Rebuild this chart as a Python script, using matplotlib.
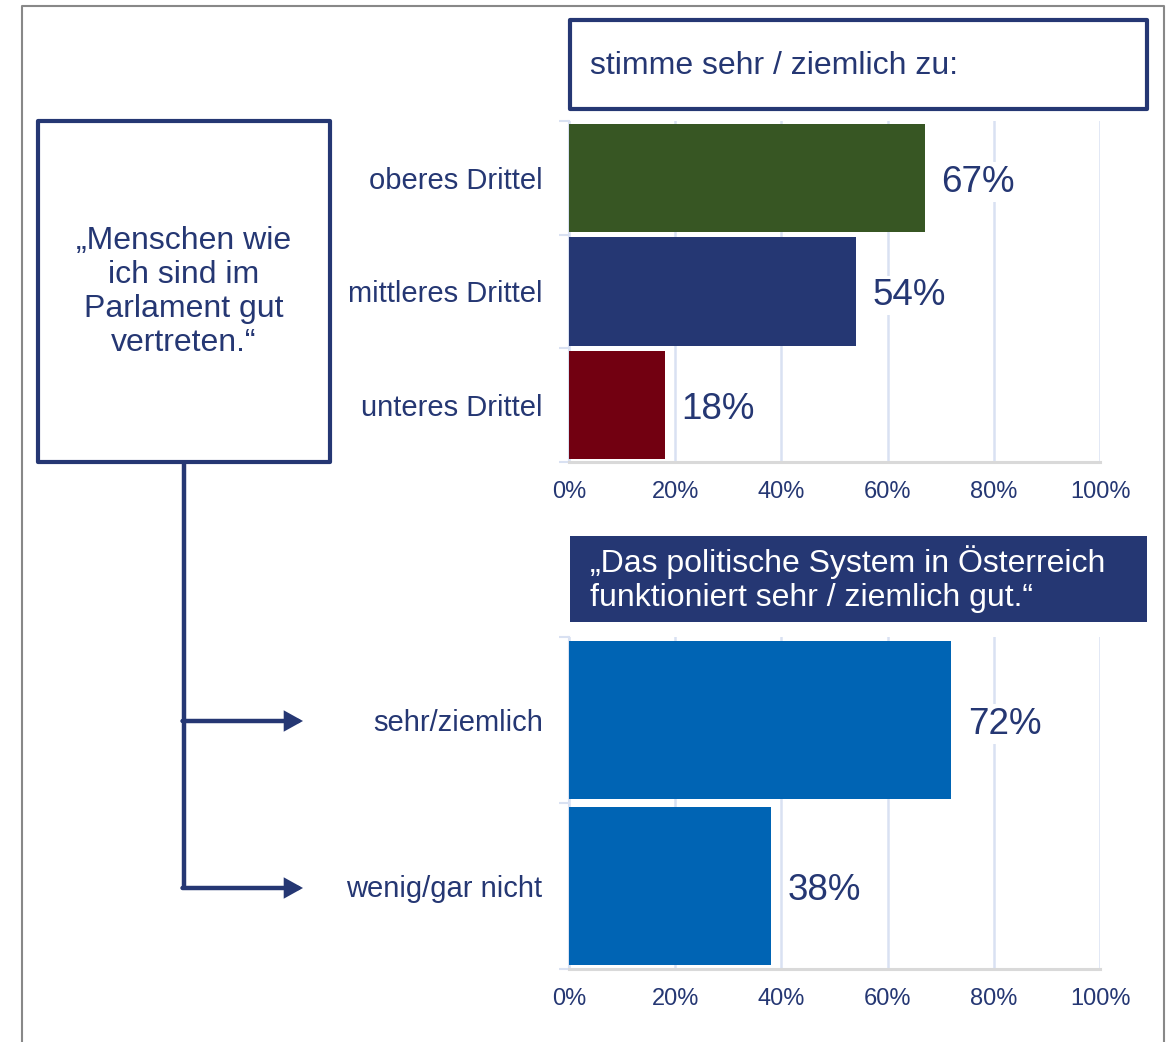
import matplotlib
matplotlib.use("Agg")
import matplotlib.pyplot as plt
from matplotlib.patches import Rectangle, FancyArrowPatch
from matplotlib.lines import Line2D
from matplotlib.ticker import FuncFormatter

# ---- data ----
top_categories = ["oberes Drittel", "mittleres Drittel", "unteres Drittel"]
top_values = [67, 54, 18]
top_colors = ["#375623", "#253773", "#720011"]

bottom_categories = ["sehr/ziemlich", "wenig/gar nicht"]
bottom_values = [72, 38]
bottom_colors = ["#0064B4", "#0064B4"]

x_ticks = [0, 20, 40, 60, 80, 100]

top_title = "stimme sehr / ziemlich zu:"
bottom_title = "\u201EDas politische System in \u00D6sterreich\nfunktioniert sehr / ziemlich gut.\u201C"
left_text = "\u201EMenschen wie\nich sind im\nParlament gut\nvertreten.\u201C"

NAVY = "#253773"
GRID = "#D9E1F2"
W, H = 1176, 1042

plt.rcParams['font.family'] = ['Liberation Sans', 'DejaVu Sans']

fig = plt.figure(figsize=(W / 100, H / 100), dpi=100)

# background axes in pixel coordinates
bg = fig.add_axes([0, 0, 1, 1], zorder=0)
bg.set_xlim(0, W)
bg.set_ylim(H, 0)
bg.axis("off")

# outer gray border
bg.add_line(Line2D([22, 22, 1164, 1164], [H + 5, 6, 6, H + 5], color="#888888", lw=1.5))

# top title box
bg.add_patch(Rectangle((570, 20), 577, 89, fc="white", ec=NAVY, lw=3, joinstyle="round"))
bg.text(590, 66, top_title, fontsize=23, color=NAVY, va="center", ha="left")

# bottom title box
bg.add_patch(Rectangle((570, 536), 577, 86, fc=NAVY, ec="none"))
bg.text(590, 579, bottom_title, fontsize=23, color="white", va="center", ha="left", linespacing=1.2)

# left statement box
bg.add_patch(Rectangle((38, 121), 292, 341, fc="white", ec=NAVY, lw=3, joinstyle="round"))
bg.text(184, 292, left_text, fontsize=23, color=NAVY, va="center", ha="center", linespacing=1.16)

# connector
bg.add_line(Line2D([184, 184], [462, 888], color=NAVY, lw=3.2, solid_capstyle="butt"))
for yy in (721, 888):
    bg.add_patch(FancyArrowPatch((182.5, yy), (303, yy), arrowstyle="-|>,head_length=9,head_width=5",
                                 color=NAVY, lw=3.2, mutation_scale=1, shrinkA=0, shrinkB=0,
                                 joinstyle="miter"))


def make_axes(rect_px, cats, vals, colors):
    x0, y0, x1, y1 = rect_px
    ax = fig.add_axes([x0 / W, 1 - y1 / H, (x1 - x0) / W, (y1 - y0) / H], zorder=2)
    ax.patch.set_alpha(0)
    n = len(cats)
    pos = list(range(n))
    ax.barh(pos, vals, height=0.955, color=colors, zorder=3)
    ax.set_xlim(0, 100)
    ax.set_ylim(n - 0.5, -0.5)
    ax.set_xticks(x_ticks)
    ax.xaxis.set_major_formatter(FuncFormatter(lambda v, p: f"{int(v)}%"))
    ax.set_yticks(pos)
    ax.set_yticklabels(cats)
    ax.set_yticks([i - 0.5 for i in range(n + 1)], minor=True)
    ax.tick_params(axis="y", which="major", length=0, pad=19, labelsize=21, labelcolor=NAVY)
    ax.tick_params(axis="y", which="minor", length=7, color=GRID, width=1.5)
    ax.tick_params(axis="x", length=0, pad=14, labelsize=17, labelcolor=NAVY)
    ax.grid(axis="x", color=GRID, lw=1.8, zorder=0)
    ax.set_axisbelow(True)
    for s in ("top", "right"):
        ax.spines[s].set_visible(False)
    ax.spines["left"].set_color(GRID)
    ax.spines["left"].set_linewidth(1.5)
    ax.spines["bottom"].set_color("#D9D9D9")
    ax.spines["bottom"].set_linewidth(2.2)
    for p, v in zip(pos, vals):
        ax.annotate(f"{v}%", xy=(v, p), xytext=(12, -3), textcoords="offset points",
                    va="center", ha="left", fontsize=26.5, color=NAVY, zorder=4,
                    bbox=dict(fc="white", ec="none", pad=1.5))
    return ax


make_axes((569, 121, 1100, 462), top_categories, top_values, top_colors)
make_axes((569, 637, 1100, 969), bottom_categories, bottom_values, bottom_colors)

fig.savefig("out.png", dpi=100)
